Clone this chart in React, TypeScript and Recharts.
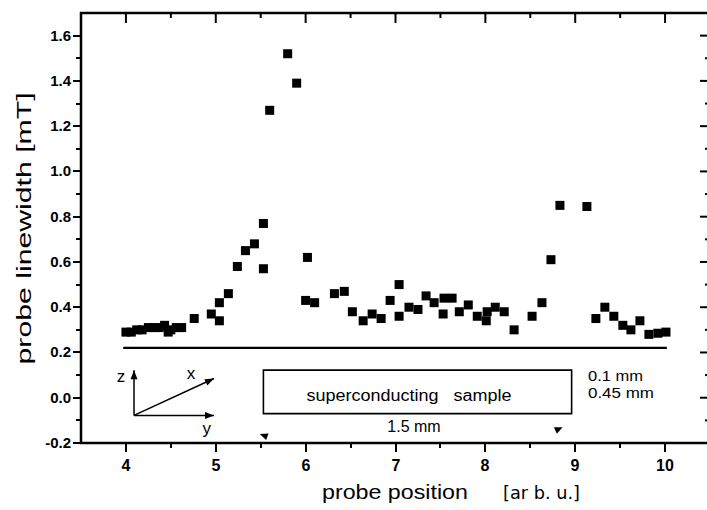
import React from 'react';
import { ScatterChart, Scatter, XAxis, YAxis, ReferenceLine, ReferenceArea, ReferenceDot } from 'recharts';

// probe position [arb. u.]
const positions = [
  4.0, 4.06, 4.12, 4.18, 4.25, 4.31, 4.37, 4.43, 4.47, 4.5, 4.56, 4.62, 4.76,
  4.95, 5.04, 5.04, 5.14, 5.24, 5.33, 5.43, 5.53, 5.53, 5.6, 5.8, 5.9, 6.02,
  6.0, 6.1, 6.32, 6.43, 6.52, 6.64, 6.74, 6.84, 6.94, 7.04, 7.04, 7.15, 7.25,
  7.34, 7.43, 7.53, 7.54, 7.63, 7.71, 7.81, 7.91, 8.01, 8.02, 8.11, 8.21, 8.32,
  8.52, 8.63, 8.73, 8.83, 9.13, 9.23, 9.33, 9.43, 9.53, 9.62, 9.72, 9.82, 9.92, 10.01,
];
// probe linewidth [mT]
const linewidths = [
  0.29, 0.29, 0.3, 0.3, 0.31, 0.31, 0.31, 0.32, 0.29, 0.3, 0.31, 0.31, 0.35,
  0.37, 0.34, 0.42, 0.46, 0.58, 0.65, 0.68, 0.77, 0.57, 1.27, 1.52, 1.39, 0.62,
  0.43, 0.42, 0.46, 0.47, 0.38, 0.34, 0.37, 0.35, 0.43, 0.5, 0.36, 0.4, 0.39,
  0.45, 0.42, 0.37, 0.44, 0.44, 0.38, 0.41, 0.36, 0.34, 0.38, 0.4, 0.38, 0.3,
  0.36, 0.42, 0.61, 0.85, 0.845, 0.35, 0.4, 0.36, 0.32, 0.3, 0.34, 0.28, 0.285, 0.29,
];

const xTickValues = [4, 4.5, 5, 5.5, 6, 6.5, 7, 7.5, 8, 8.5, 9, 9.5, 10];
const xMajorValues = [4, 5, 6, 7, 8, 9, 10];
const xTickLabels = ['4', '5', '6', '7', '8', '9', '10'];

const yTickValues = [-0.2, -0.1, 0, 0.1, 0.2, 0.3, 0.4, 0.5, 0.6, 0.7, 0.8, 0.9, 1.0, 1.1, 1.2, 1.3, 1.4, 1.5, 1.6];
const yMajorValues = [-0.2, 0, 0.2, 0.4, 0.6, 0.8, 1.0, 1.2, 1.4, 1.6];
const yTickLabels = ['-0.2', '0.0', '0.2', '0.4', '0.6', '0.8', '1.0', '1.2', '1.4', '1.6'];

const X_DOMAIN = [3.5, 10.5];
const Y_DOMAIN = [-0.2, 1.7];

const baselineLevel = 0.22;
const baselineFrom = 3.97;
const baselineTo = 10.02;

const data = positions.map((x, i) => ({ x, y: linewidths[i] }));

const FONT = '"Liberation Sans", Arial, Helvetica, sans-serif';
const INK = '#000';
const TICK_W = 2;

const LeftTick = (p: any) => {
  const idx = yMajorValues.indexOf(p.payload.value);
  const major = idx >= 0;
  const y = Math.round(p.y);
  return (
    <g>
      <rect x={p.x - (major ? 8 : 5)} y={y - TICK_W / 2} width={major ? 8 : 5} height={TICK_W} fill={INK} />
      {major && (
        <text x={p.x - 10} y={y} dy="0.36em" textAnchor="end" fontSize={15} fontWeight="bold" fontFamily={FONT} fill={INK}>
          {yTickLabels[idx]}
        </text>
      )}
    </g>
  );
};

const BottomTick = (p: any) => {
  const idx = xMajorValues.indexOf(p.payload.value);
  const major = idx >= 0;
  const x = Math.round(p.x);
  return (
    <g>
      <rect x={x - TICK_W / 2} y={p.y} width={TICK_W} height={major ? 9 : 5} fill={INK} />
      {major && (
        <text x={x} y={p.y + 28} textAnchor="middle" fontSize={16} fontWeight="bold" fontFamily={FONT} fill={INK}>
          {xTickLabels[idx]}
        </text>
      )}
    </g>
  );
};

const squareShape = (p: any) => (
  <rect x={p.cx - 4.5} y={p.cy - 4.5} width={9} height={9} fill={INK} />
);

const textShape = (text: string, size: number, anchor: string, length?: number, opts: any = {}) => (p: any) => (
  <text
    x={p.cx}
    y={p.cy}
    dy="0.35em"
    textAnchor={anchor}
    fontSize={size}
    fontFamily={FONT}
    fill={INK}
    style={{ whiteSpace: 'pre' }}
    {...(length ? { textLength: length, lengthAdjust: 'spacingAndGlyphs' } : {})}
    {...opts}
  >
    {text}
  </text>
);

const yTitleShape = (p: any) => (
  <text
    transform={`translate(${p.cx},${p.cy}) rotate(-90)`}
    textAnchor="middle"
    dominantBaseline="central"
    fontSize={20}
    fontFamily={FONT}
    fill={INK}
    textLength={272}
    lengthAdjust="spacingAndGlyphs"
  >
    probe linewidth [mT]
  </text>
);

const headShape = (angle: number, len = 9, half = 3.5) => (p: any) => (
  <polygon
    points={`0,0 ${-len},${-half} ${-len},${half}`}
    transform={`translate(${p.cx},${p.cy}) rotate(${angle})`}
    fill={INK}
  />
);

// mirrored inward ticks on the top / right frame, expressed in data units
const rightTickLen = (v: number) => (yMajorValues.indexOf(v) >= 0 ? 0.111 : 0.056);
const topTickLen = (v: number) => (xMajorValues.indexOf(v) >= 0 ? 0.044 : 0.022);

// annotation anchors (data coordinates)
const icon = { x0: 4.09, y0: -0.078, zTop: 0.122, xEndX: 4.98, xEndY: 0.085, yEndX: 4.98 };

export default function App() {
  return (
    <div style={{ position: 'absolute', left: 0, top: 0, width: 707, height: 510, overflow: 'hidden', background: '#fff' }}>
      <ScatterChart width={720} height={510} margin={{ top: 13, right: 10, bottom: 0, left: 0 }}>
        <XAxis
          dataKey="x"
          type="number"
          domain={X_DOMAIN}
          ticks={xTickValues}
          interval={0}
          height={67}
          tickSize={0}
          tickMargin={0}
          tick={BottomTick}
          tickLine={false}
          axisLine={{ stroke: INK, strokeWidth: 2 }}
        />
        <YAxis
          dataKey="y"
          type="number"
          domain={Y_DOMAIN}
          ticks={yTickValues}
          interval={0}
          width={81}
          tickSize={0}
          tickMargin={0}
          tick={LeftTick}
          tickLine={false}
          axisLine={{ stroke: INK, strokeWidth: 2 }}
        />

        {/* frame (top and right sides) */}
        <ReferenceArea x1={X_DOMAIN[0]} x2={X_DOMAIN[1]} y1={Y_DOMAIN[0]} y2={Y_DOMAIN[1]} fill="none" fillOpacity={0} stroke={INK} strokeWidth={2.5} ifOverflow="visible" />
        {yTickValues.map((v) => (
          <ReferenceLine
            key={`r${v}`}
            segment={[{ x: X_DOMAIN[1] - rightTickLen(v), y: v }, { x: X_DOMAIN[1], y: v }]}
            stroke={INK}
            strokeWidth={2}
          />
        ))}
        {xTickValues.map((v) => (
          <ReferenceLine
            key={`t${v}`}
            segment={[{ x: v, y: Y_DOMAIN[1] }, { x: v, y: Y_DOMAIN[1] - topTickLen(v) }]}
            stroke={INK}
            strokeWidth={2}
          />
        ))}

        <ReferenceLine
          segment={[{ x: baselineFrom, y: baselineLevel }, { x: baselineTo, y: baselineLevel }]}
          stroke={INK}
          strokeWidth={2.2}
        />

        <ReferenceArea x1={5.53} x2={8.96} y1={-0.07} y2={0.122} fill="none" fillOpacity={0} stroke={INK} strokeWidth={1.6} />
        <ReferenceDot x={7.15} y={0.01} r={0} shape={textShape('superconducting   sample', 16, 'middle', 205)} />
        <ReferenceDot x={7.206} y={-0.125} r={0} shape={textShape('1.5 mm', 16, 'middle')} />
        <ReferenceDot x={9.142} y={0.095} r={0} shape={textShape('0.1 mm', 15, 'start', 55)} />
        <ReferenceDot x={9.142} y={0.02} r={0} shape={textShape('0.45 mm', 15, 'start', 66)} />
        <ReferenceDot x={5.49} y={-0.16} r={0} shape={headShape(200, 8, 3.5)} />
        <ReferenceDot x={8.86} y={-0.13} r={0} shape={headShape(-25, 8, 3.5)} />

        {/* coordinate system icon */}
        <ReferenceLine segment={[{ x: icon.x0, y: icon.y0 }, { x: icon.x0, y: icon.zTop }]} stroke={INK} strokeWidth={1.5} />
        <ReferenceLine segment={[{ x: icon.x0, y: icon.y0 }, { x: icon.xEndX, y: icon.xEndY }]} stroke={INK} strokeWidth={1.5} />
        <ReferenceLine segment={[{ x: icon.x0, y: icon.y0 }, { x: icon.yEndX, y: icon.y0 }]} stroke={INK} strokeWidth={1.5} />
        <ReferenceDot x={icon.x0} y={icon.zTop} r={0} shape={headShape(-90)} />
        <ReferenceDot x={icon.xEndX} y={icon.xEndY} r={0} shape={headShape(-25)} />
        <ReferenceDot x={icon.yEndX} y={icon.y0} r={0} shape={headShape(0)} />
        <ReferenceDot x={3.945} y={0.095} r={0} shape={textShape('z', 17, 'middle')} />
        <ReferenceDot x={4.724} y={0.11} r={0} shape={textShape('x', 17, 'middle')} />
        <ReferenceDot x={4.9} y={-0.135} r={0} shape={textShape('y', 17, 'middle')} />

        {/* axis titles */}
        <ReferenceDot x={2.866} y={0.748} r={0} ifOverflow="visible" shape={yTitleShape} />
        <ReferenceDot x={6.182} y={-0.447} r={0} ifOverflow="visible" shape={textShape('probe position', 21, 'start', 146, { dy: 0 })} />
        <ReferenceDot x={8.196} y={-0.447} r={0} ifOverflow="visible" shape={textShape('[ar b. u.]', 18, 'start', 77, { dy: 0, fontFamily: '"DejaVu Sans", sans-serif' })} />

        <Scatter data={data} shape={squareShape} isAnimationActive={false} />
      </ScatterChart>
    </div>
  );
}
